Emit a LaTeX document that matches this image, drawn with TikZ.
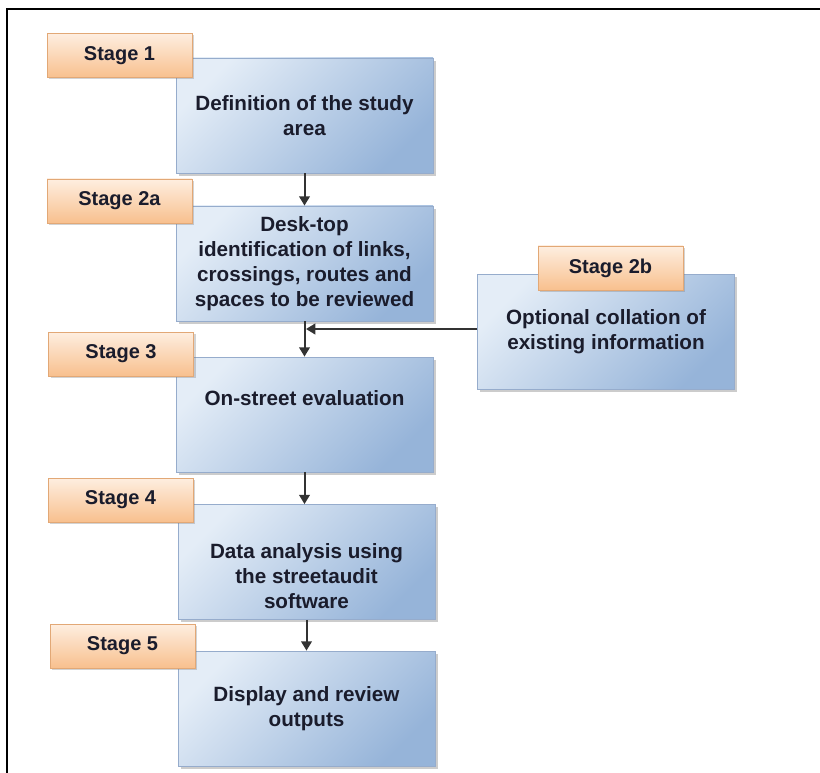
\documentclass[tikz,border=0pt]{standalone}
\usepackage{fontspec}
\setmainfont{Liberation Sans}
\usetikzlibrary{arrows.meta,shadows}
\definecolor{boxlight}{RGB}{228,237,247}
\definecolor{boxdark}{RGB}{150,180,217}
\definecolor{boxedge}{RGB}{150,172,204}
\definecolor{taglight}{RGB}{254,238,224}
\definecolor{tagdark}{RGB}{248,192,142}
\definecolor{tagedge}{RGB}{226,168,118}
\definecolor{inkdark}{RGB}{26,28,44}
\begin{document}
\begin{tikzpicture}[x=0.75pt,y=-0.75pt,
    stagebox/.style={draw=boxedge, line width=0.6pt, left color=boxlight, right color=boxdark,
        shading angle=45, minimum width=192.75pt, minimum height=86.25pt, align=center,
        text=inkdark, font=\bfseries\fontsize{15.5}{18.75}\selectfont,
        drop shadow={shadow xshift=2pt, shadow yshift=-2pt, opacity=0.4}},
    stagetag/.style={draw=tagedge, line width=0.6pt, top color=taglight, bottom color=tagdark,
        minimum width=108.75pt, minimum height=33pt, text=inkdark,
        font=\bfseries\fontsize{15}{18}\selectfont,
        drop shadow={shadow xshift=1.5pt, shadow yshift=-1.5pt, opacity=0.35}},
    flow/.style={draw=black!80, line width=1.5pt, -{Triangle[width=8pt,length=7pt]}}]
    \useasboundingbox (0,0) rectangle (820,773);
    \draw[line width=1.6pt] (7,773) -- (7,9) -- (820,9);

    \node[stagebox] (define) at (304.5,115.5) {Definition of the study\\area};
    \node[stagebox] (desk) at (304.5,263.5) {Desk-top\\identification of links,\\crossings, routes and\\spaces to be reviewed};
    \node[stagebox] (collate) at (606,332) {Optional collation of\\existing information};
    \node[stagebox] (street) at (304.5,414.5) {On-street evaluation\\\strut};
    \node[stagebox] (analysis) at (306.5,562) {\strut\\Data analysis using\\the streetaudit\\software};
    \node[stagebox] (display) at (306.5,708.5) {Display and review\\outputs};

    \node[stagetag] (tag1) at (119.5,55.5) {Stage 1};
    \node[stagetag] (tag2a) at (119.5,201) {Stage 2a};
    \node[stagetag] (tag2b) at (610.5,268) {Stage 2b};
    \node[stagetag] (tag3) at (121,354) {Stage 3};
    \node[stagetag] (tag4) at (120.5,500) {Stage 4};
    \node[stagetag] (tag5) at (122.5,646) {Stage 5};

    \coordinate (join) at (306,329);
    \draw[flow] (define) -- (desk);
    \draw[flow] (collate.west |- join) -- (join);
    \draw[flow] (desk) -- (street);
    \draw[flow] (street.south) -- (street.south |- analysis.north);
    \draw[flow] (analysis) -- (display);
\end{tikzpicture}
\end{document}
